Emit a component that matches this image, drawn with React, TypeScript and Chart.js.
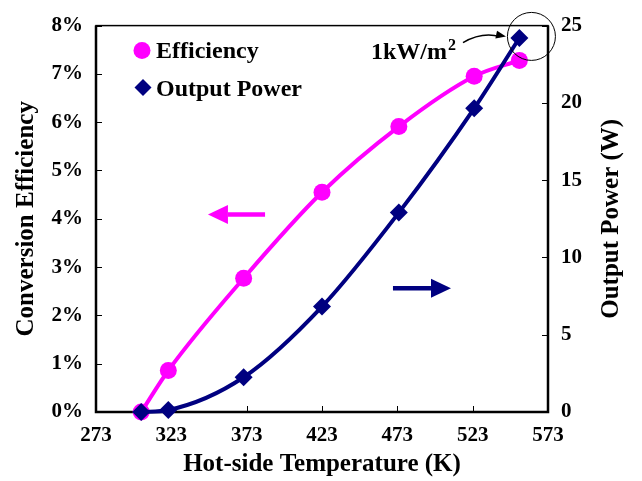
import React, { useEffect, useRef } from 'react';
import { Chart, registerables } from 'chart.js';

Chart.register(...registerables);

// ---- data ----
const temperatures = [303, 321, 371, 423, 474, 524, 554];
const efficiency = [0, 0.86, 2.77, 4.55, 5.91, 6.95, 7.28];
const outputPower = [0, 0.13, 2.25, 6.82, 12.9, 19.65, 24.2];
const xTicks = [273, 323, 373, 423, 473, 523, 573];
const effTicks = [0, 1, 2, 3, 4, 5, 6, 7, 8];
const powerTicks = [0, 5, 10, 15, 20, 25];

const PINK = '#FF00FF';
const NAVY = '#000080';
const FONT = "'Liberation Serif', 'Times New Roman', serif";

const decorPlugin = {
  id: 'decor',
  beforeDatasetsDraw(chart: any) {
    const { ctx, chartArea: a, scales } = chart;
    ctx.save();
    ctx.strokeStyle = '#000';
    ctx.lineWidth = 1;
    ctx.beginPath();
    for (const v of effTicks) {
      const y = Math.round(scales.y.getPixelForValue(v)) + 0.5;
      ctx.moveTo(a.left, y);
      ctx.lineTo(a.left + 6, y);
    }
    for (const v of powerTicks) {
      const y = Math.round(scales.y1.getPixelForValue(v)) + 0.5;
      ctx.moveTo(a.right, y);
      ctx.lineTo(a.right - 6, y);
    }
    for (const v of xTicks) {
      const x = Math.round(scales.x.getPixelForValue(v)) + 0.5;
      ctx.moveTo(x, a.bottom);
      ctx.lineTo(x, a.bottom - 6);
    }
    ctx.stroke();
    ctx.lineWidth = 1.5;
    ctx.strokeRect(a.left, a.top, a.right - a.left, a.bottom - a.top);
    ctx.lineWidth = 2.5;
    ctx.beginPath();
    ctx.moveTo(a.left, a.top);
    ctx.lineTo(a.left, a.bottom);
    ctx.lineTo(a.right, a.bottom);
    ctx.lineTo(a.right, a.top);
    ctx.stroke();
    ctx.restore();
  },
  afterDatasetsDraw(chart: any) {
    const { ctx, chartArea: a, scales } = chart;
    const sx = scales.x, sy = scales.y, sp = scales.y1;
    ctx.save();

    // legend
    ctx.fillStyle = PINK;
    ctx.beginPath();
    ctx.arc(a.left + 46, a.top + 25, 8.5, 0, Math.PI * 2);
    ctx.fill();
    ctx.fillStyle = NAVY;
    const dx = a.left + 47, dy = a.top + 62;
    ctx.beginPath();
    ctx.moveTo(dx, dy - 8.5);
    ctx.lineTo(dx + 8.5, dy);
    ctx.lineTo(dx, dy + 8.5);
    ctx.lineTo(dx - 8.5, dy);
    ctx.closePath();
    ctx.fill();
    ctx.fillStyle = '#000';
    ctx.font = `bold 24px ${FONT}`;
    ctx.textBaseline = 'middle';
    ctx.textAlign = 'left';
    ctx.fillText('Efficiency', a.left + 60, a.top + 26);
    ctx.fillText('Output Power', a.left + 60, a.top + 64);

    const drawArrow = (x0: number, x1: number, y: number, color: string) => {
      const dir = Math.sign(x1 - x0);
      const headLen = 20, half = 9.5;
      ctx.fillStyle = color;
      ctx.strokeStyle = color;
      ctx.lineWidth = 4.5;
      ctx.beginPath();
      ctx.moveTo(x0, y);
      ctx.lineTo(x1 - dir * headLen, y);
      ctx.stroke();
      ctx.beginPath();
      ctx.moveTo(x1, y);
      ctx.lineTo(x1 - dir * headLen, y - half);
      ctx.lineTo(x1 - dir * headLen, y + half);
      ctx.closePath();
      ctx.fill();
    };
    drawArrow(sx.getPixelForValue(385.2), sx.getPixelForValue(347.3), sy.getPixelForValue(4.09), PINK);
    drawArrow(sx.getPixelForValue(470.1), sx.getPixelForValue(508.6), sp.getPixelForValue(8.0), NAVY);

    // circle around last power point
    ctx.strokeStyle = '#000';
    ctx.lineWidth = 1;
    ctx.beginPath();
    ctx.arc(sx.getPixelForValue(562), sp.getPixelForValue(24.3), 24, 0, Math.PI * 2);
    ctx.stroke();

    // annotation text
    ctx.fillStyle = '#000';
    ctx.textBaseline = 'alphabetic';
    ctx.font = `bold 24px ${FONT}`;
    const tx = a.left + 275, ty = a.top + 33;
    ctx.fillText('1kW/m', tx, ty);
    const w = ctx.measureText('1kW/m').width;
    ctx.font = `bold 16px ${FONT}`;
    ctx.fillText('2', tx + w + 1, ty - 9);

    // curved arrow
    const x0 = a.left + 367, y0 = a.top + 17;
    const cx = a.left + 386, cy = a.top + 6;
    const x1 = a.left + 410, y1 = a.top + 11;
    ctx.lineWidth = 1.5;
    ctx.beginPath();
    ctx.moveTo(x0, y0);
    ctx.quadraticCurveTo(cx, cy, x1 - 6, y1);
    ctx.stroke();
    const ang = Math.atan2(y1 - cy, x1 - cx);
    ctx.beginPath();
    ctx.moveTo(x1, y1);
    ctx.lineTo(x1 - 10 * Math.cos(ang) + 4 * Math.sin(ang), y1 - 10 * Math.sin(ang) - 4 * Math.cos(ang));
    ctx.lineTo(x1 - 10 * Math.cos(ang) - 4 * Math.sin(ang), y1 - 10 * Math.sin(ang) + 4 * Math.cos(ang));
    ctx.closePath();
    ctx.fill();

    ctx.restore();
  },
  afterDraw(chart: any) {
    const { ctx, chartArea: a } = chart;
    ctx.save();
    ctx.fillStyle = '#000';
    ctx.font = `bold 25px ${FONT}`;
    ctx.textAlign = 'center';
    ctx.textBaseline = 'middle';
    ctx.translate(612, (a.top + a.bottom) / 2);
    ctx.rotate(-Math.PI / 2);
    ctx.fillText('Output Power (W)', 0, 0);
    ctx.restore();
  },
};

export default function App() {
  const ref = useRef<HTMLCanvasElement | null>(null);
  useEffect(() => {
    if (!ref.current) return;
    const tickFont = { family: FONT, size: 21, weight: 'bold' as const };
    const titleFont = { family: FONT, size: 25, weight: 'bold' as const };
    const chart = new Chart(ref.current, {
      type: 'line',
      data: {
        datasets: [
          {
            label: 'Output Power',
            data: temperatures.map((t, i) => ({ x: t, y: outputPower[i] })),
            yAxisID: 'y1',
            borderColor: NAVY,
            backgroundColor: NAVY,
            borderWidth: 4,
            pointStyle: 'rectRot',
            pointRadius: 9,
            pointBorderWidth: 0,
            cubicInterpolationMode: 'monotone',
            clip: false,
          },
          {
            label: 'Efficiency',
            data: temperatures.map((t, i) => ({ x: t, y: efficiency[i] })),
            yAxisID: 'y',
            borderColor: PINK,
            backgroundColor: PINK,
            borderWidth: 4,
            pointStyle: 'circle',
            pointRadius: 8.5,
            pointBorderWidth: 0,
            cubicInterpolationMode: 'monotone',
            clip: false,
          },
        ],
      },
      options: {
        responsive: false,
        animation: false,
        layout: { padding: { top: 21, left: 0, right: 0, bottom: 0 } },
        plugins: { legend: { display: false }, tooltip: { enabled: false } },
        scales: {
          x: {
            type: 'linear',
            position: 'bottom',
            min: 273,
            max: 573,
            afterBuildTicks: (s: any) => { s.ticks = xTicks.map((value) => ({ value })); },
            afterFit: (s: any) => { s.height = 69; },
            grid: { display: false, drawTicks: false },
            border: { display: false },
            ticks: { font: tickFont, color: '#000', padding: 11, maxRotation: 0, autoSkip: false },
            title: { display: true, text: 'Hot-side Temperature (K)', color: '#000', font: titleFont, padding: { top: 0, bottom: 1 } },
          },
          y: {
            type: 'linear',
            position: 'left',
            min: 0,
            max: 8,
            afterBuildTicks: (s: any) => { s.ticks = effTicks.map((value) => ({ value })); },
            afterFit: (s: any) => { s.width = 96; },
            grid: { display: false, drawTicks: false },
            border: { display: false },
            ticks: { font: tickFont, color: '#000', padding: 13, callback: (v: any) => `${v}%` },
            title: { display: true, text: 'Conversion Efficiency', color: '#000', font: titleFont, padding: { top: 12, bottom: 0 } },
          },
          y1: {
            type: 'linear',
            position: 'right',
            min: 0,
            max: 25,
            afterBuildTicks: (s: any) => { s.ticks = powerTicks.map((value) => ({ value })); },
            afterFit: (s: any) => { s.width = 94; },
            grid: { display: false, drawTicks: false },
            border: { display: false },
            ticks: { font: tickFont, color: '#000', padding: 13 },
          },
        },
      },
      plugins: [decorPlugin],
    } as any);
    return () => chart.destroy();
  }, []);
  return (
    <div style={{ position: 'absolute', left: 0, top: 0, width: 642, height: 481, background: '#fff' }}>
      <canvas ref={ref} width={642} height={481} style={{ display: 'block' }} />
    </div>
  );
}
